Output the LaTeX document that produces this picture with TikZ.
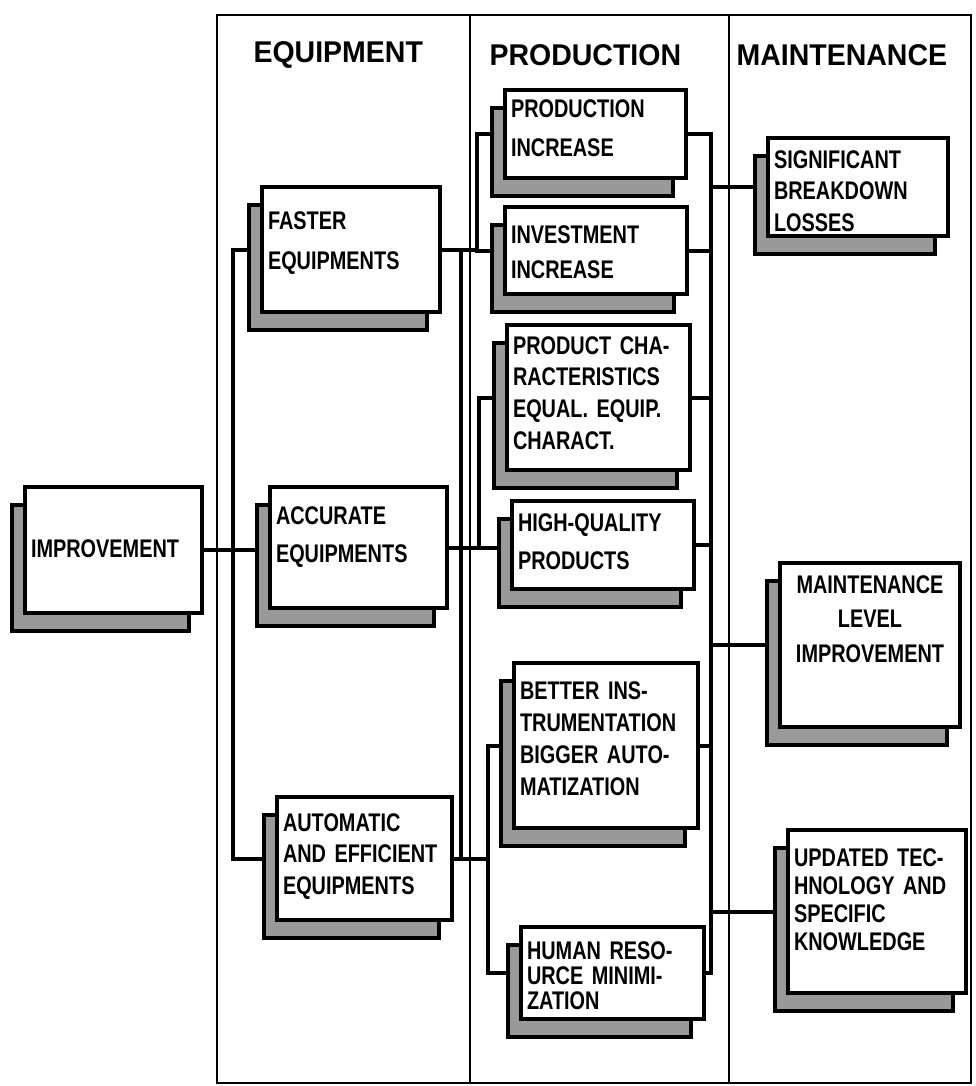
\documentclass[tikz,border=0pt]{standalone}
\usepackage{fontspec}
\setmainfont{Liberation Sans}
\newfontfamily\cardfont{Liberation Sans}[FakeStretch=0.78]
\newfontfamily\headfont{Liberation Sans}[FakeStretch=0.95]
\usetikzlibrary{shadows,backgrounds}
\tikzset{
  card/.style={draw, line width=3.6pt, fill=white, inner xsep=6pt, inner ysep=0pt,
    outer sep=0pt, anchor=north west, align=left,
    font=\cardfont\bfseries\fontsize{25.5}{33}\selectfont,
    copy shadow={shadow xshift=-13pt, shadow yshift=-18pt, fill=black!40,
      draw=black, line width=3.6pt}},
  leading/.style={font=\cardfont\bfseries\fontsize{25.5}{#1}\selectfont},
  heading/.style={anchor=west, font=\headfont\bfseries\fontsize{30}{30}\selectfont},
  frame/.style={line width=2.4pt},
  link/.style={line width=4pt}
}
\begin{document}
\begin{tikzpicture}[x=1pt,y=-1pt]
\useasboundingbox (0,0) rectangle (976,1086);
% column headings
\node[heading] (hequip) at (250,55) {EQUIPMENT};
\node[heading] (hprod) at (486,55) {PRODUCTION};
\node[heading] (hmaint) at (733,55) {MAINTENANCE};
% root and equipment
\node[card, text width=165pt, text height=70pt, text depth=56pt] (improve) at (25,487) {IMPROVEMENT};
\node[card, leading=40, text width=166pt, text height=42pt, text depth=83pt] (faster) at (262,187) {FASTER\\EQUIPMENTS};
\node[card, leading=38, text width=165pt, text height=37pt, text depth=84pt] (accurate) at (270,487) {ACCURATE\\EQUIPMENTS};
\node[card, leading=31.5, text width=163pt, text height=34pt, text depth=89pt] (automatic) at (277,797) {AUTOMATIC\\AND EFFICIENT\\EQUIPMENTS};
% production
\node[card, leading=39, text width=169pt, text height=28pt, text depth=60pt] (prodinc) at (505,90) {PRODUCTION\\INCREASE};
\node[card, leading=35, text width=170pt, text height=36pt, text depth=51pt] (invest) at (505,207) {INVESTMENT\\INCREASE};
\node[card, leading=31.7, text width=171pt, text height=29pt, text depth=116pt] (prodchar) at (507,325) {PRODUCT CHA-\\RACTERISTICS\\EQUAL. EQUIP.\\CHARACT.};
\node[card, leading=38, text width=170pt, text height=30pt, text depth=58pt] (quality) at (512,501) {HIGH-QUALITY\\PRODUCTS};
\node[card, leading=32.3, text width=172pt, text height=36pt, text depth=129pt] (instr) at (514,663) {BETTER INS-\\TRUMENTATION\\BIGGER AUTO-\\MATIZATION};
\node[card, leading=25, text width=171pt, text height=32pt, text depth=60pt] (human) at (521,927) {HUMAN RESO-\\URCE MINIMI-\\ZATION};
% maintenance
\node[card, leading=31.5, text width=168pt, text height=30pt, text depth=68pt] (breakdown) at (768,138) {SIGNIFICANT\\BREAKDOWN\\LOSSES};
\node[card, leading=34.5, align=center, text width=168pt, text height=30pt, text depth=134pt] (mainlevel) at (780,563) {MAINTENANCE\\LEVEL\\IMPROVEMENT};
\node[card, leading=28, text width=166pt, text height=36pt, text depth=127pt] (technology) at (788,830) {UPDATED TEC-\\HNOLOGY AND\\SPECIFIC\\KNOWLEDGE};
% trunk positions
\coordinate (eqL) at (233,0);
\coordinate (eqR) at (461,0);
\coordinate (brA) at (477,0);
\coordinate (brB) at (479,0);
\coordinate (brC) at (488,0);
\coordinate (prR) at (711,0);
\begin{pgfonlayer}{background}
\draw[frame] (217,15) rectangle (971,1083);
\draw[frame] (470,15) -- (470,1083);
\draw[frame] (729,15) -- (729,1083);
% equipment side
\draw[link] (improve.east) -- (improve.east -| accurate.west);
\draw[link] (faster.west) -- (faster.west -| eqL) -- (automatic.west -| eqL) -- (automatic.west);
\draw[link] (faster.east -| eqR) -- (automatic.east -| eqR);
% equipment to production
\draw[link] (faster.east) -- (faster.east -| brA);
\draw[link] (prodinc.west) -- (prodinc.west -| brA) -- (invest.west -| brA) -- (invest.west);
\draw[link] (accurate.east) -- (accurate.east -| quality.west);
\draw[link] (prodchar.west) -- (prodchar.west -| brB) -- (accurate.east -| brB);
\draw[link] (automatic.east) -- (automatic.east -| brC);
\draw[link] (instr.west) -- (instr.west -| brC) -- (human.west -| brC) -- (human.west);
% production to maintenance
\draw[link] (prodinc.east) -- (prodinc.east -| prR) -- (human.east -| prR) -- (human.east);
\foreach \n in {invest,prodchar,quality,instr}
  \draw[link] (\n.east) -- (\n.east -| prR);
\foreach \n in {breakdown,mainlevel,technology}
  \draw[link] (\n.west -| prR) -- (\n.west);
\end{pgfonlayer}
\end{tikzpicture}
\end{document}
